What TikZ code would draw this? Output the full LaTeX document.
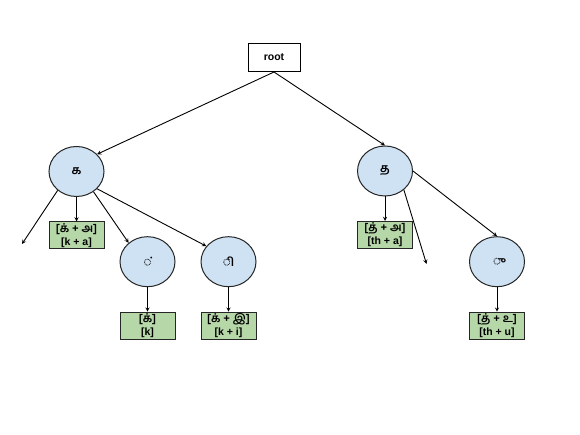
\documentclass[tikz,border=0pt]{standalone}
\usepackage{fontspec}
\setmainfont{Liberation Sans}
\newfontfamily\tamilfont[Script=Tamil]{Hind Madurai}
\usetikzlibrary{shapes.geometric, arrows}
\definecolor{letterblue}{HTML}{CFE2F3}
\definecolor{soundgreen}{HTML}{B6D7A8}
\tikzstyle{rootbox} = [rectangle, 
minimum width=52pt, 
minimum height=28pt, 
inner sep=0pt,
text centered, 
draw=black, 
line width=1pt,
fill=white,
font=\fontsize{10.5}{13}\selectfont\bfseries]
\tikzstyle{letter} = [ellipse, 
minimum width=55pt, 
minimum height=50pt, 
inner sep=0pt,
text centered, 
draw=black!85, 
line width=1pt,
fill=letterblue,
font=\fontsize{12}{13}\selectfont\tamilfont\bfseries]
\tikzstyle{sound} = [rectangle, 
minimum width=55pt, 
minimum height=27pt, 
inner sep=0pt,
align=center, 
draw=black!85, 
line width=1pt,
fill=soundgreen,
font=\fontsize{10.5}{13}\selectfont\bfseries]
\tikzstyle{arrow} = [line width=0.9pt,->,>=stealth]
\newcommand{\ta}[1]{{\tamilfont\fontsize{11.5}{13}\selectfont #1}}

\begin{document}
\begin{tikzpicture}[x=1pt, y=-1pt, node distance=64pt]
\useasboundingbox (0,0) rectangle (580,435);

\node (root) [rootbox] at (274,57.5) {root};
\node (ka) [letter] at (76.5,171.5) {க};
\node (kaa) [sound, below of=ka] {\ta{[க் + அ]}\\ {[k + a]}};
\node (pulli) [letter] at (147.5,261.7) {◌்};
\node (kbox) [sound, below of=pulli] {\ta{[க்]}\\ {[k]}};
\node (ivowel) [letter, right of=pulli, xshift=17pt] {◌ி};
\node (kibox) [sound, below of=ivowel] {\ta{[க் + இ]}\\ {[k + i]}};
\node (tha) [letter] at (385,171) {த};
\node (thaa) [sound, below of=tha] {\ta{[த் + அ]}\\ {[th + a]}};
\node (uvowel) [letter] at (497,261.7) {◌ு};
\node (thubox) [sound, below of=uvowel] {\ta{[த் + உ]}\\ {[th + u]}};
\coordinate (kaloose) at (22,244);
\coordinate (thaloose) at (426.5,264);

\draw [arrow] (root.south) -- (ka.40);
\draw [arrow] (root.south) -- (tha.north);
\draw [arrow] (ka.-135) -- (kaloose);
\draw [arrow] (ka) -- (kaa);
\draw [arrow] (ka.-50) -- (pulli.135);
\draw [arrow] (ka.-40) -- (ivowel.145);
\draw [arrow] (pulli) -- (kbox);
\draw [arrow] (ivowel) -- (kibox);
\draw [arrow] (tha) -- (thaa);
\draw [arrow] (tha.-45) -- (thaloose);
\draw [arrow] (tha.east) -- (uvowel.north);
\draw [arrow] (uvowel) -- (thubox);

\end{tikzpicture}
\end{document}
